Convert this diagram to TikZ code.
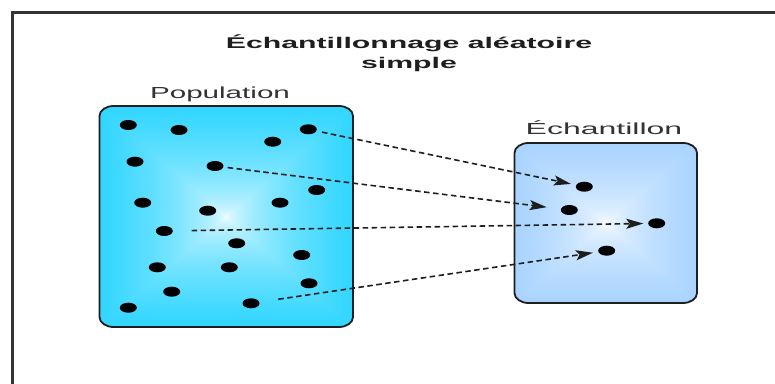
\documentclass[tikz,border=0pt]{standalone}
\usepackage{fontspec}
\setmainfont{Liberation Sans}
\usepackage{graphicx}
\usetikzlibrary{arrows.meta,shapes.geometric}

% rectangular gradients: white centre fading to the edge colour
\pgfdeclarefunctionalshading{popfill}{\pgfpoint{-50bp}{-50bp}}{\pgfpoint{50bp}{50bp}}{}{
  abs exch abs 2 copy lt {exch} if pop 50 div 0.5 exp 1.15 mul dup 1 gt {pop 1} if
  dup 1 exch sub exch 0.2 mul 1 exch sub 1
}
\pgfdeclarefunctionalshading{samplefill}{\pgfpoint{-50bp}{-50bp}}{\pgfpoint{50bp}{50bp}}{}{
  abs exch abs 2 copy lt {exch} if pop 50 div 0.5 exp 1.15 mul dup 1 gt {pop 1} if
  dup 0.42 mul 1 exch sub exch 0.21 mul 1 exch sub 1
}

\definecolor{inkdark}{HTML}{1E1E1E}
\definecolor{framegray}{HTML}{333333}

\tikzset{
  framestroke/.style={draw=framegray, line width=2.2pt},
  boxstroke/.style={draw=inkdark, line width=1.8pt},
  dot/.style={ellipse, fill=black, draw=none, inner sep=0pt,
              minimum width=17pt, minimum height=10pt},
  conn/.style={draw=inkdark, line width=1.6pt, dash pattern=on 5.5pt off 3.5pt,
               -{Stealth[length=17pt, width=10pt, inset=3.5pt]}},
  titletext/.style={font=\fontsize{15.5}{18}\selectfont\bfseries, text=inkdark, inner sep=0pt},
  boxlabel/.style={font=\fontsize{16}{19}\selectfont, text=framegray, inner sep=0pt}
}

\begin{document}
\begin{tikzpicture}[x=1pt, y=1pt]
  \useasboundingbox (0,0) rectangle (775,383);
  \clip (0,0) rectangle (775,383);
  \fill[white] (0,0) rectangle (775,383);

  % outer frame (runs off the right and bottom edges)
  \draw[framestroke] (12.5,-10) -- (12.5,370.5) -- (790,370.5);

  % title
  \node[titletext, anchor=base] (title1) at (409,334.7)
    {\scalebox{1.95}[1]{Échantillonnage aléatoire}};
  \node[titletext, anchor=base] (title2) at (409,314.7)
    {\scalebox{1.95}[1]{simple}};

  % population box
  \shade[shading=popfill]
    (113.5,56) -- (339,56) arc[start angle=-90, end angle=0, x radius=14pt, y radius=10pt]
    -- (353,267) arc[start angle=0, end angle=90, x radius=14pt, y radius=10pt]
    -- (113.5,277) arc[start angle=90, end angle=180, x radius=14pt, y radius=10pt]
    -- (99.5,66) arc[start angle=180, end angle=270, x radius=14pt, y radius=10pt] -- cycle;
  \draw[boxstroke]
    (113.5,56) -- (339,56) arc[start angle=-90, end angle=0, x radius=14pt, y radius=10pt]
    -- (353,267) arc[start angle=0, end angle=90, x radius=14pt, y radius=10pt]
    -- (113.5,277) arc[start angle=90, end angle=180, x radius=14pt, y radius=10pt]
    -- (99.5,66) arc[start angle=180, end angle=270, x radius=14pt, y radius=10pt] -- cycle;
  \node[boxlabel, anchor=base] (poplabel) at (220,284.7) {\scalebox{1.85}[1]{Population}};

  % sample box
  \shade[shading=samplefill]
    (528.5,80) -- (683,80) arc[start angle=-90, end angle=0, x radius=14pt, y radius=10pt]
    -- (697,230) arc[start angle=0, end angle=90, x radius=14pt, y radius=10pt]
    -- (528.5,240) arc[start angle=90, end angle=180, x radius=14pt, y radius=10pt]
    -- (514.5,90) arc[start angle=180, end angle=270, x radius=14pt, y radius=10pt] -- cycle;
  \draw[boxstroke]
    (528.5,80) -- (683,80) arc[start angle=-90, end angle=0, x radius=14pt, y radius=10pt]
    -- (697,230) arc[start angle=0, end angle=90, x radius=14pt, y radius=10pt]
    -- (528.5,240) arc[start angle=90, end angle=180, x radius=14pt, y radius=10pt]
    -- (514.5,90) arc[start angle=180, end angle=270, x radius=14pt, y radius=10pt] -- cycle;
  \node[boxlabel, anchor=base] (samplabel) at (604,248) {\scalebox{2.0}[1]{Échantillon}};

  % population members
  \node[dot] (p1)  at (128.3,258)   {};
  \node[dot] (p2)  at (179,253)     {};
  \node[dot] (p3)  at (308.3,253.7) {};
  \node[dot] (p4)  at (272.7,241.3) {};
  \node[dot] (p5)  at (135,221.3)   {};
  \node[dot] (p6)  at (215,217)     {};
  \node[dot] (p7)  at (316.7,193)   {};
  \node[dot] (p8)  at (142.7,180.3) {};
  \node[dot] (p9)  at (280,180.3)   {};
  \node[dot] (p10) at (207.7,172.3) {};
  \node[dot] (p11) at (164.3,152)   {};
  \node[dot] (p12) at (236.7,139.7) {};
  \node[dot] (p13) at (301.7,128)   {};
  \node[dot] (p14) at (157.3,115.7) {};
  \node[dot] (p15) at (229.3,115.7) {};
  \node[dot] (p16) at (309,99.7)    {};
  \node[dot] (p17) at (171.7,91.3)  {};
  \node[dot] (p18) at (251,79.7)    {};
  \node[dot] (p19) at (128.3,75.3)  {};

  % sample members
  \node[dot] (s1) at (584.3,196.3) {};
  \node[dot] (s2) at (569.3,173)   {};
  \node[dot] (s3) at (656.7,159.7) {};
  \node[dot] (s4) at (606.7,132.3) {};

  % random draws
  \draw[conn, shorten <=14pt, shorten >=13.7pt] (p3.center)  -- (s1.center);
  \draw[conn, shorten <=12.7pt, shorten >=22.8pt] (p6.center) -- (s2.center);
  \draw[conn, shorten <=27.4pt, shorten >=13.4pt] (p11.center) -- (s3.center);
  \draw[conn, shorten <=27.6pt, shorten >=14pt] (p18.center) -- (s4.center);
\end{tikzpicture}
\end{document}
